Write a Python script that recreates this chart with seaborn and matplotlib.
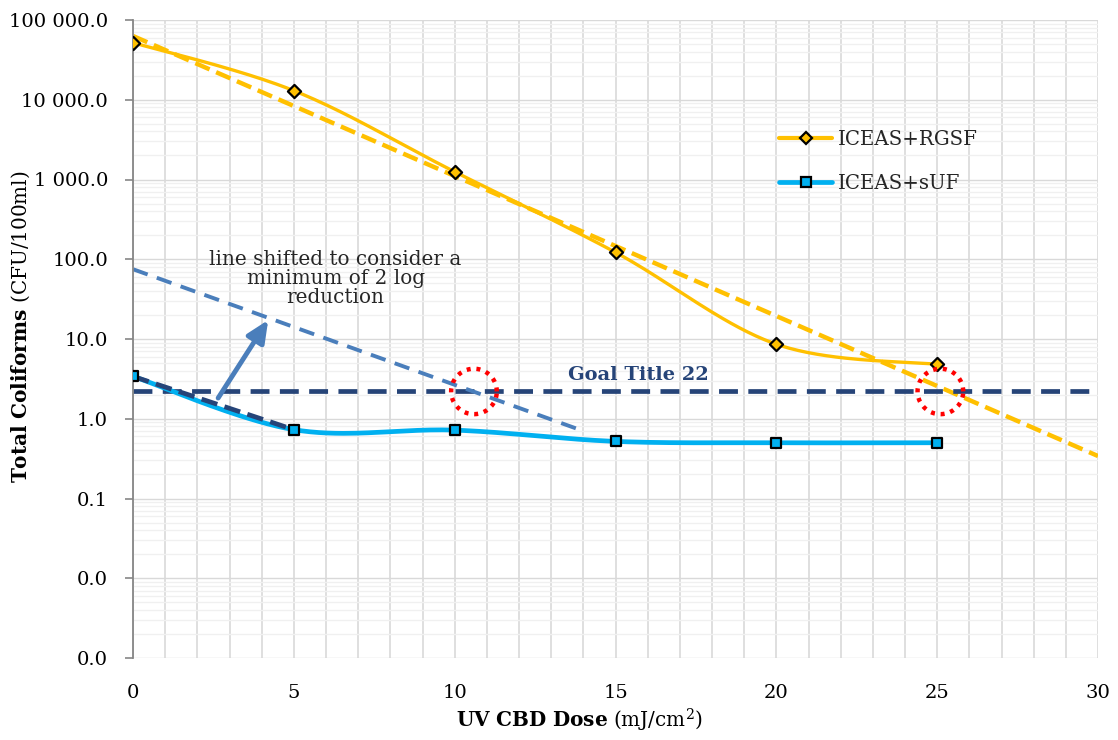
import numpy as np
import matplotlib.pyplot as plt
import matplotlib.ticker as mticker
from matplotlib.lines import Line2D
import seaborn as sns

# data
dose = [0, 5, 10, 15, 20, 25]
rgsf = [52000, 13000, 1250, 122, 8.6, 4.8]
suf = [3.4, 0.73, 0.72, 0.52, 0.5, 0.5]
goal_title22 = 2.2
shift_x = [0, 13.8]
shift_y = [75, 0.75]
circle_x = [10.6, 25.1]

YELLOW = '#FFC000'
CYAN = '#00B0F0'
NAVY = '#264478'
STEEL = '#4A7EBB'


def smooth(x, y, n=40):
    # Excel-style smoothed line (Catmull-Rom bezier) in log space
    x = np.asarray(x, float)
    ly = np.log10(np.asarray(y, float))
    pts = np.column_stack([x, ly])
    out = []
    for i in range(len(pts) - 1):
        p0 = pts[max(i - 1, 0)]
        p1 = pts[i]
        p2 = pts[i + 1]
        p3 = pts[min(i + 2, len(pts) - 1)]
        c1 = p1 + (p2 - p0) / 6
        c2 = p2 - (p3 - p1) / 6
        t = np.linspace(0, 1, n)[:, None]
        seg = ((1 - t) ** 3) * p1 + 3 * ((1 - t) ** 2) * t * c1 + 3 * (1 - t) * t ** 2 * c2 + t ** 3 * p2
        out.append(seg)
    out = np.vstack(out)
    return out[:, 0], 10 ** out[:, 1]


sns.set_theme(style="white")
plt.rcParams['font.family'] = ['DejaVu Serif']
plt.rcParams['mathtext.fontset'] = 'custom'
plt.rcParams['mathtext.rm'] = 'DejaVu Serif'
plt.rcParams['mathtext.bf'] = 'DejaVu Serif:bold'

fig = plt.figure(figsize=(11.18, 7.4), dpi=100)
ax = fig.add_axes([133 / 1118, 1 - 658 / 740, 965 / 1118, 638 / 740])
ax.set_yscale('log')
ax.set_xlim(0, 30)
ax.set_ylim(0.001, 100000)

# grid
ax.xaxis.set_major_locator(mticker.MultipleLocator(5))
ax.xaxis.set_minor_locator(mticker.MultipleLocator(1))
ax.yaxis.set_major_locator(mticker.LogLocator(base=10, numticks=20))
ax.yaxis.set_minor_locator(mticker.LogLocator(base=10, subs=np.arange(2, 10), numticks=20))
ax.grid(which='major', axis='y', color='#d9d9d9', lw=1)
ax.grid(which='minor', axis='y', color='#f0f0f0', lw=1)
ax.grid(which='both', axis='x', color='#d9d9d9', lw=1.2)
ax.set_axisbelow(True)

ax.yaxis.set_major_formatter(mticker.FuncFormatter(lambda v, p: f'{v:,.1f}'.replace(',', ' ')))
ax.yaxis.set_minor_formatter(mticker.NullFormatter())

for s in ['top', 'right', 'bottom']:
    ax.spines[s].set_visible(False)
ax.spines['left'].set_color('#868686')
ax.spines['left'].set_linewidth(1.3)
ax.tick_params(axis='y', which='major', left=True, length=6, width=1.2, color='#868686',
               labelsize=14, labelcolor='black', pad=12)
ax.tick_params(axis='y', which='minor', left=False)
ax.tick_params(axis='x', which='both', bottom=False, labelsize=14, labelcolor='black', pad=13)

# trendlines
k, b = np.polyfit(dose, np.log10(rgsf), 1)
tx = np.array([0, 30])
sns.lineplot(x=tx, y=10 ** (b + k * tx), ax=ax, color=YELLOW, lw=3.2,
             linestyle=(0, (3.5, 1.6)), zorder=2)
k2, b2 = np.polyfit(dose[:2], np.log10(suf[:2]), 1)
tx2 = np.array([0, 5])
sns.lineplot(x=tx2, y=10 ** (b2 + k2 * tx2), ax=ax, color=NAVY, lw=3.4,
             linestyle=(0, (3.5, 1.6)), zorder=4)
sns.lineplot(x=[0, 30], y=[goal_title22] * 2, ax=ax, color=NAVY, lw=3.4,
             linestyle=(0, (4, 2.2)), zorder=2)
sns.lineplot(x=shift_x, y=shift_y, ax=ax, color=STEEL, lw=2.8,
             linestyle=(0, (4, 2.5)), zorder=2)

# smoothed series
sx, sy = smooth(dose, rgsf)
ax.plot(sx, sy, color=YELLOW, lw=2.4, zorder=3)
sx, sy = smooth(dose, suf)
ax.plot(sx, sy, color=CYAN, lw=3.4, zorder=3)
sns.scatterplot(x=dose, y=rgsf, ax=ax, marker='D', s=45, color=YELLOW, edgecolor='black',
                linewidth=1.6, zorder=5)
sns.scatterplot(x=dose, y=suf, ax=ax, marker='s', s=55, color=CYAN, edgecolor='black',
                linewidth=1.6, zorder=5)

# red dotted circles
t = np.linspace(0, 2 * np.pi, 200)
for cx in circle_x:
    ax.plot(cx + 0.71 * np.cos(t), goal_title22 * 10 ** (0.285 * np.sin(t)),
            color='red', lw=3.2, linestyle=(0, (0.9, 1.3)), zorder=6)

# arrow + annotations
ax.annotate('', xy=(4.25, 18.5), xytext=(2.6, 1.7),
            arrowprops=dict(arrowstyle='-|>,head_width=0.5,head_length=1.1', color=STEEL, lw=3.5),
            zorder=6)
ax.text(6.3, 58, 'line shifted to consider a\nminimum of 2 log\nreduction', ha='center', va='center',
        fontsize=14.4, linespacing=1.0)
ax.text(15.7, 2.75, 'Goal Title 22', ha='center', va='bottom', fontsize=14, fontweight='bold', color=NAVY)

# legend
handles = [Line2D([], [], color=YELLOW, lw=3, marker='D', markersize=6.5, markerfacecolor=YELLOW,
                  markeredgecolor='black', markeredgewidth=1.6),
           Line2D([], [], color=CYAN, lw=3.4, marker='s', markersize=7, markerfacecolor=CYAN,
                  markeredgecolor='black', markeredgewidth=1.6)]
ax.legend(handles, ['ICEAS+RGSF', 'ICEAS+sUF'], loc='upper left', bbox_to_anchor=(0.651, 0.855),
          frameon=False, fontsize=14.2, handlelength=2.7, handletextpad=0.3, labelspacing=1.25)

ax.set_xlabel(r'$\bf{UV\ CBD\ Dose}$ (mJ/cm$^2$)', fontsize=14.4, color='black')
ax.xaxis.set_label_coords(0.463, -0.077)
ax.set_ylabel(r'$\bf{Total\ Coliforms}$ (CFU/100ml)', fontsize=14.4, color='black')
ax.yaxis.set_label_coords(-0.105, 0.519)

fig.savefig('out.png', dpi=100)
